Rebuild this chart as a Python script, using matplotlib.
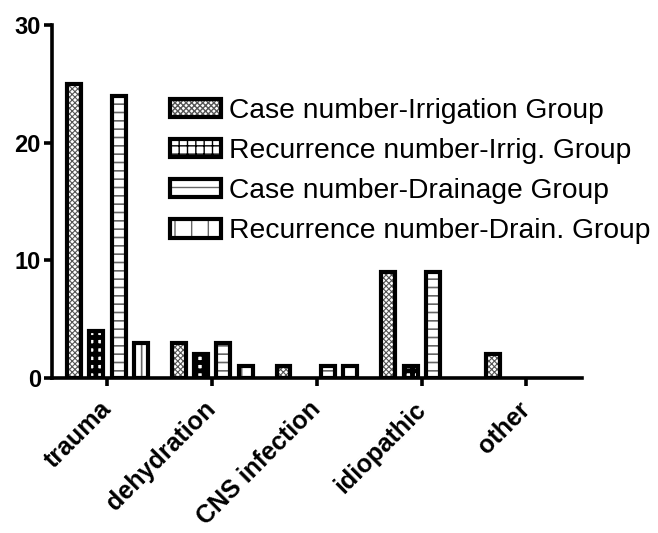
import numpy as np
import matplotlib
matplotlib.use("Agg")
import matplotlib.pyplot as plt

categories = ["trauma", "dehydration", "CNS infection", "idiopathic", "other"]
case_irrig = [25, 3, 1, 9, 2]
recur_irrig = [4, 2, 0, 1, 0]
case_drain = [24, 3, 1, 9, 0]
recur_drain = [3, 1, 1, 0, 0]
labels = ["Case number-Irrigation Group", "Recurrence number-Irrig. Group",
          "Case number-Drainage Group", "Recurrence number-Drain. Group"]

plt.rcParams["font.family"] = ["Liberation Sans", "DejaVu Sans"]

fig = plt.figure(figsize=(6.58, 5.33), dpi=100)
ax = fig.add_axes([0.079, 0.291, 0.8055, 0.662])

x = np.arange(len(categories))
step, w = 0.213, 0.133
# hatch, hatch colour, hatch line width
styles = [("xxxxxx", "#555555", 0.8),
          ("++", "black", 3.5),
          ("--", "#666666", 1.2),
          ("|", "#666666", 1.2)]

handles = []
for i, (vals, (hatch, hc, hlw)) in enumerate(zip([case_irrig, recur_irrig, case_drain, recur_drain], styles)):
    pos = x + (i - 1.5) * step
    with plt.rc_context({"hatch.linewidth": hlw}):
        fill = ax.bar(pos, vals, w, color="white", edgecolor=hc, hatch=hatch, linewidth=0, zorder=1)
        for p in fill:
            if hasattr(p, "set_hatch_linewidth"):
                p.set_hatch_linewidth(hlw)
    # no outline for empty bars
    lws = [3 if v > 0 else 0 for v in vals]
    edge = ax.bar(pos, vals, w, facecolor="none", edgecolor="black", linewidth=lws, zorder=2)
    edge[0].set_linewidth(3)
    handles.append((fill[0], edge[0]))

ax.set_xlim(-0.53, 4.53)
ax.set_ylim(0, 30)
ax.set_yticks([0, 10, 20, 30])
ax.set_xticks(x)
ax.set_xticklabels(categories, rotation=45, ha="right", va="center",
                   rotation_mode="anchor", fontsize=18, fontweight="bold")
for t in ax.get_yticklabels():
    t.set_fontsize(17)
    t.set_fontweight("bold")

for s in ["top", "right"]:
    ax.spines[s].set_visible(False)
for s in ["left", "bottom"]:
    ax.spines[s].set_linewidth(2.6)
ax.tick_params(axis="both", length=6, width=2.6, direction="out")
ax.tick_params(axis="x", pad=14)
ax.tick_params(axis="y", pad=2)

ax.legend(handles, labels, loc="upper left", bbox_to_anchor=(170 / 658, 1 - 98 / 533),
          bbox_transform=fig.transFigure, frameon=False, fontsize=20.3,
          borderpad=0, borderaxespad=0, handlelength=1.8, handleheight=0.62,
          handletextpad=0.3, labelspacing=0.5)

fig.savefig("out.png", dpi=100)
